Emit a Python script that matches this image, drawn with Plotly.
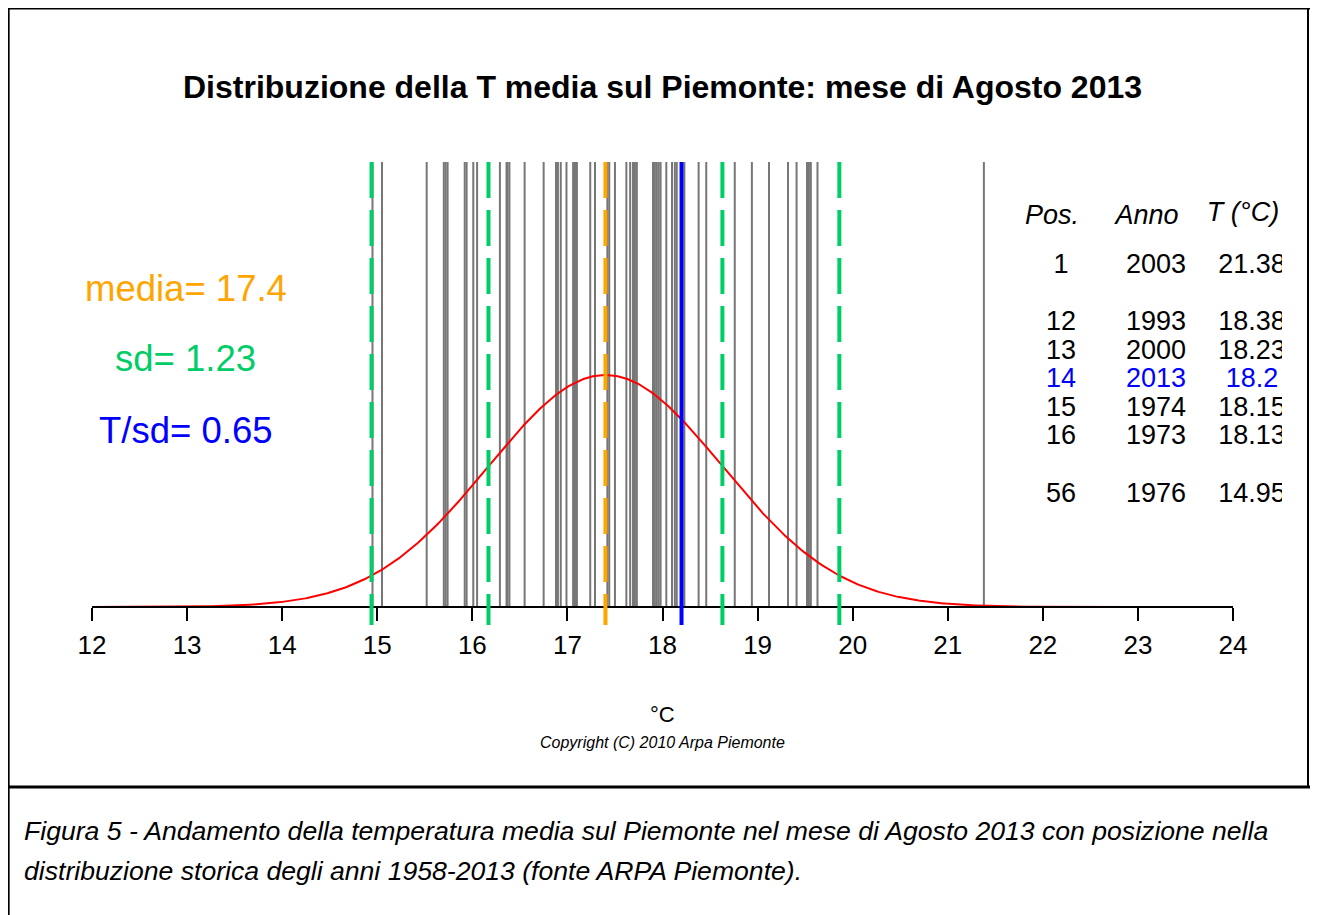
import numpy as np
import plotly.graph_objects as go

# ---------------- data ----------------
temps = [21.38, 19.63, 19.56, 19.54, 19.52, 19.41, 19.32, 19.12, 18.94, 18.76,
         18.46, 18.38, 18.23, 18.20, 18.15, 18.13, 18.10, 18.04, 17.98, 17.96,
         17.94, 17.92, 17.90, 17.73, 17.71, 17.69, 17.66, 17.62, 17.50, 17.44,
         17.42, 17.29, 17.24, 17.10, 17.08, 17.06, 16.99, 16.93, 16.90, 16.88,
         16.75, 16.55, 16.39, 16.37, 16.36, 16.29, 16.05, 16.01, 15.94, 15.92,
         15.74, 15.72, 15.70, 15.52, 15.05, 14.95]
media = 17.4
sd = 1.23
t_year = 18.2
t_sd = 0.65
tick_vals = list(range(12, 25))

tab_pos = [1, 12, 13, 14, 15, 16, 56]
tab_year = [2003, 1993, 2000, 2013, 1974, 1973, 1976]
tab_temp = ["21.38", "18.38", "18.23", "18.2", "18.15", "18.13", "14.95"]
highlight_year = 2013

# ---------------- geometry ----------------
W, H = 1318, 915
OFF = 8  # page body margin compensation


def P(v):
    return v - OFF


X0PX, X1PX = P(92), P(1233)
u = (X1PX - X0PX) / 12.0
xmin = 12 - X0PX / u
xmax = 12 + (W - X0PX) / u
Y0PX = P(607)
peak = 1.0 / (sd * np.sqrt(2 * np.pi))
k = 232.0 / peak
ymax = Y0PX / k
ymin = -(H - Y0PX) / k
top = (Y0PX - P(162)) / k
below = -(P(625) - Y0PX) / k

GREEN = "#00CD66"
ORANGE = "#FFA500"
BLUE = "#0000FF"
FONT = "Liberation Sans, Arial, Helvetica, sans-serif"


def px(x):
    return P(x) / W


def py(y):
    return 1 - P(y) / H


fig = go.Figure()

# gray vertical lines
gx, gy = [], []
for t in temps:
    gx += [t, t, None]
    gy += [0, top, None]
fig.add_trace(go.Scatter(x=gx, y=gy, mode="lines",
                         line=dict(color="#777777", width=2),
                         hoverinfo="skip", showlegend=False))

# normal curve
xs = np.linspace(12, 24, 600)
ys = np.exp(-0.5 * ((xs - media) / sd) ** 2) / (sd * np.sqrt(2 * np.pi))
fig.add_trace(go.Scatter(x=xs, y=ys, mode="lines",
                         line=dict(color="red", width=2),
                         hoverinfo="skip", showlegend=False))

# axis line
fig.add_trace(go.Scatter(x=[tick_vals[0], tick_vals[-1]], y=[0, 0], mode="lines",
                         line=dict(color="black", width=2),
                         hoverinfo="skip", showlegend=False))

# sd lines
for m in (-2, -1, 1, 2):
    v = media + m * sd
    fig.add_trace(go.Scatter(x=[v, v], y=[top, below], mode="lines",
                             line=dict(color=GREEN, width=4, dash="36px,12px"),
                             hoverinfo="skip", showlegend=False))
# mean line
fig.add_trace(go.Scatter(x=[media, media], y=[top, below], mode="lines",
                         line=dict(color=ORANGE, width=4, dash="36px,12px"),
                         hoverinfo="skip", showlegend=False))
# current year
fig.add_trace(go.Scatter(x=[t_year, t_year], y=[top, below], mode="lines",
                         line=dict(color=BLUE, width=4),
                         hoverinfo="skip", showlegend=False))

# table (second subplot in pixel units, clipped on the right)
slots = [0]
for i in range(1, len(tab_pos)):
    slots.append(slots[-1] + (1 if tab_pos[i] - tab_pos[i - 1] == 1 else 2))
row_y = [P(266 + s * 28.6) for s in slots]
colors = [BLUE if yr == highlight_year else "black" for yr in tab_year]
tfont = dict(family=FONT, size=27, color=colors)
fig.add_trace(go.Scatter(x=[P(1061)] * len(tab_pos), y=row_y, mode="text",
                         text=[str(p) for p in tab_pos], textposition="middle center",
                         textfont=tfont, xaxis="x2", yaxis="y2",
                         cliponaxis=True, hoverinfo="skip", showlegend=False))
fig.add_trace(go.Scatter(x=[P(1156)] * len(tab_pos), y=row_y, mode="text",
                         text=[str(yv) for yv in tab_year], textposition="middle center",
                         textfont=tfont, xaxis="x2", yaxis="y2",
                         cliponaxis=True, hoverinfo="skip", showlegend=False))
fig.add_trace(go.Scatter(x=[P(1252)] * len(tab_pos), y=row_y, mode="text",
                         text=tab_temp, textposition="middle center",
                         textfont=tfont, xaxis="x2", yaxis="y2",
                         cliponaxis=True, hoverinfo="skip", showlegend=False))
hfont = dict(family=FONT, size=27, color="black")
fig.add_trace(go.Scatter(x=[P(1052), P(1147), P(1243)], y=[P(217), P(217), P(214)],
                         mode="text",
                         text=["<i>Pos.</i>", "<i>Anno</i>", "<i>T (°C)</i>"],
                         textposition="middle center", textfont=hfont,
                         xaxis="x2", yaxis="y2", cliponaxis=True,
                         hoverinfo="skip", showlegend=False))

annotations = [
    dict(text="<b>Distribuzione della T media sul Piemonte: mese di Agosto 2013</b>",
         x=px(662), y=py(87), font=dict(family=FONT, size=32, color="black")),
    dict(text=f"media= {media}", x=px(186), y=py(288),
         font=dict(family=FONT, size=36.5, color=ORANGE)),
    dict(text=f"sd= {sd}", x=px(186), y=py(358),
         font=dict(family=FONT, size=36.5, color=GREEN)),
    dict(text=f"T/sd= {t_sd}", x=px(186), y=py(430),
         font=dict(family=FONT, size=36.5, color=BLUE)),
    dict(text="°C", x=px(662), y=py(714),
         font=dict(family=FONT, size=22, color="black")),
    dict(text="<i>Copyright (C) 2010 Arpa Piemonte</i>", x=px(662), y=py(742),
         font=dict(family=FONT, size=16, color="black")),
    dict(text="<i>Figura 5 - Andamento della temperatura media sul Piemonte nel mese di Agosto 2013 con posizione nella</i>",
         x=px(22), y=py(831), xanchor="left",
         font=dict(family=FONT, size=26.6, color="black")),
    dict(text="<i>distribuzione storica degli anni 1958-2013 (fonte ARPA Piemonte).</i>",
         x=px(22), y=py(871), xanchor="left",
         font=dict(family=FONT, size=26.6, color="black")),
]
for a in annotations:
    a.setdefault("xanchor", "center")
    a.update(xref="paper", yref="paper", yanchor="middle", showarrow=False)

shapes = [
    dict(type="line", x0=0.0005, x1=0.0005, y0=1, y1=0, line=dict(color="black", width=2)),
    dict(type="line", x0=0, x1=1, y0=0.9995, y1=0.9995, line=dict(color="black", width=2)),
    dict(type="line", x0=px(1308), x1=px(1308), y0=1, y1=py(787), line=dict(color="black", width=2)),
    dict(type="line", x0=0, x1=1, y0=py(787), y1=py(787), line=dict(color="black", width=3)),
]
for s in shapes:
    s.update(xref="paper", yref="paper")

fig.update_layout(
    width=W, height=H,
    margin=dict(l=0, r=0, t=0, b=0),
    paper_bgcolor="white", plot_bgcolor="rgba(0,0,0,0)",
    showlegend=False,
    xaxis=dict(range=[xmin, xmax], domain=[0, 1], anchor="free", position=1 - Y0PX / H,
               tickvals=tick_vals, ticktext=[str(t) for t in tick_vals],
               ticks="outside", ticklen=13, tickwidth=2, tickcolor="black",
               tickfont=dict(family=FONT, size=26, color="black"),
               ticklabelstandoff=2,
               showgrid=False, zeroline=False, showline=False, fixedrange=True),
    yaxis=dict(range=[ymin, ymax], domain=[0, 1], visible=False,
               showgrid=False, zeroline=False, fixedrange=True),
    xaxis2=dict(range=[P(988), P(1282)], domain=[P(988) / W, P(1282) / W], anchor="y2",
                visible=False, showgrid=False, zeroline=False, fixedrange=True),
    yaxis2=dict(range=[H, 0], domain=[0, 1], anchor="x2",
                visible=False, showgrid=False, zeroline=False, fixedrange=True),
    annotations=annotations,
    shapes=shapes,
)

fig.write_html("out.html")
